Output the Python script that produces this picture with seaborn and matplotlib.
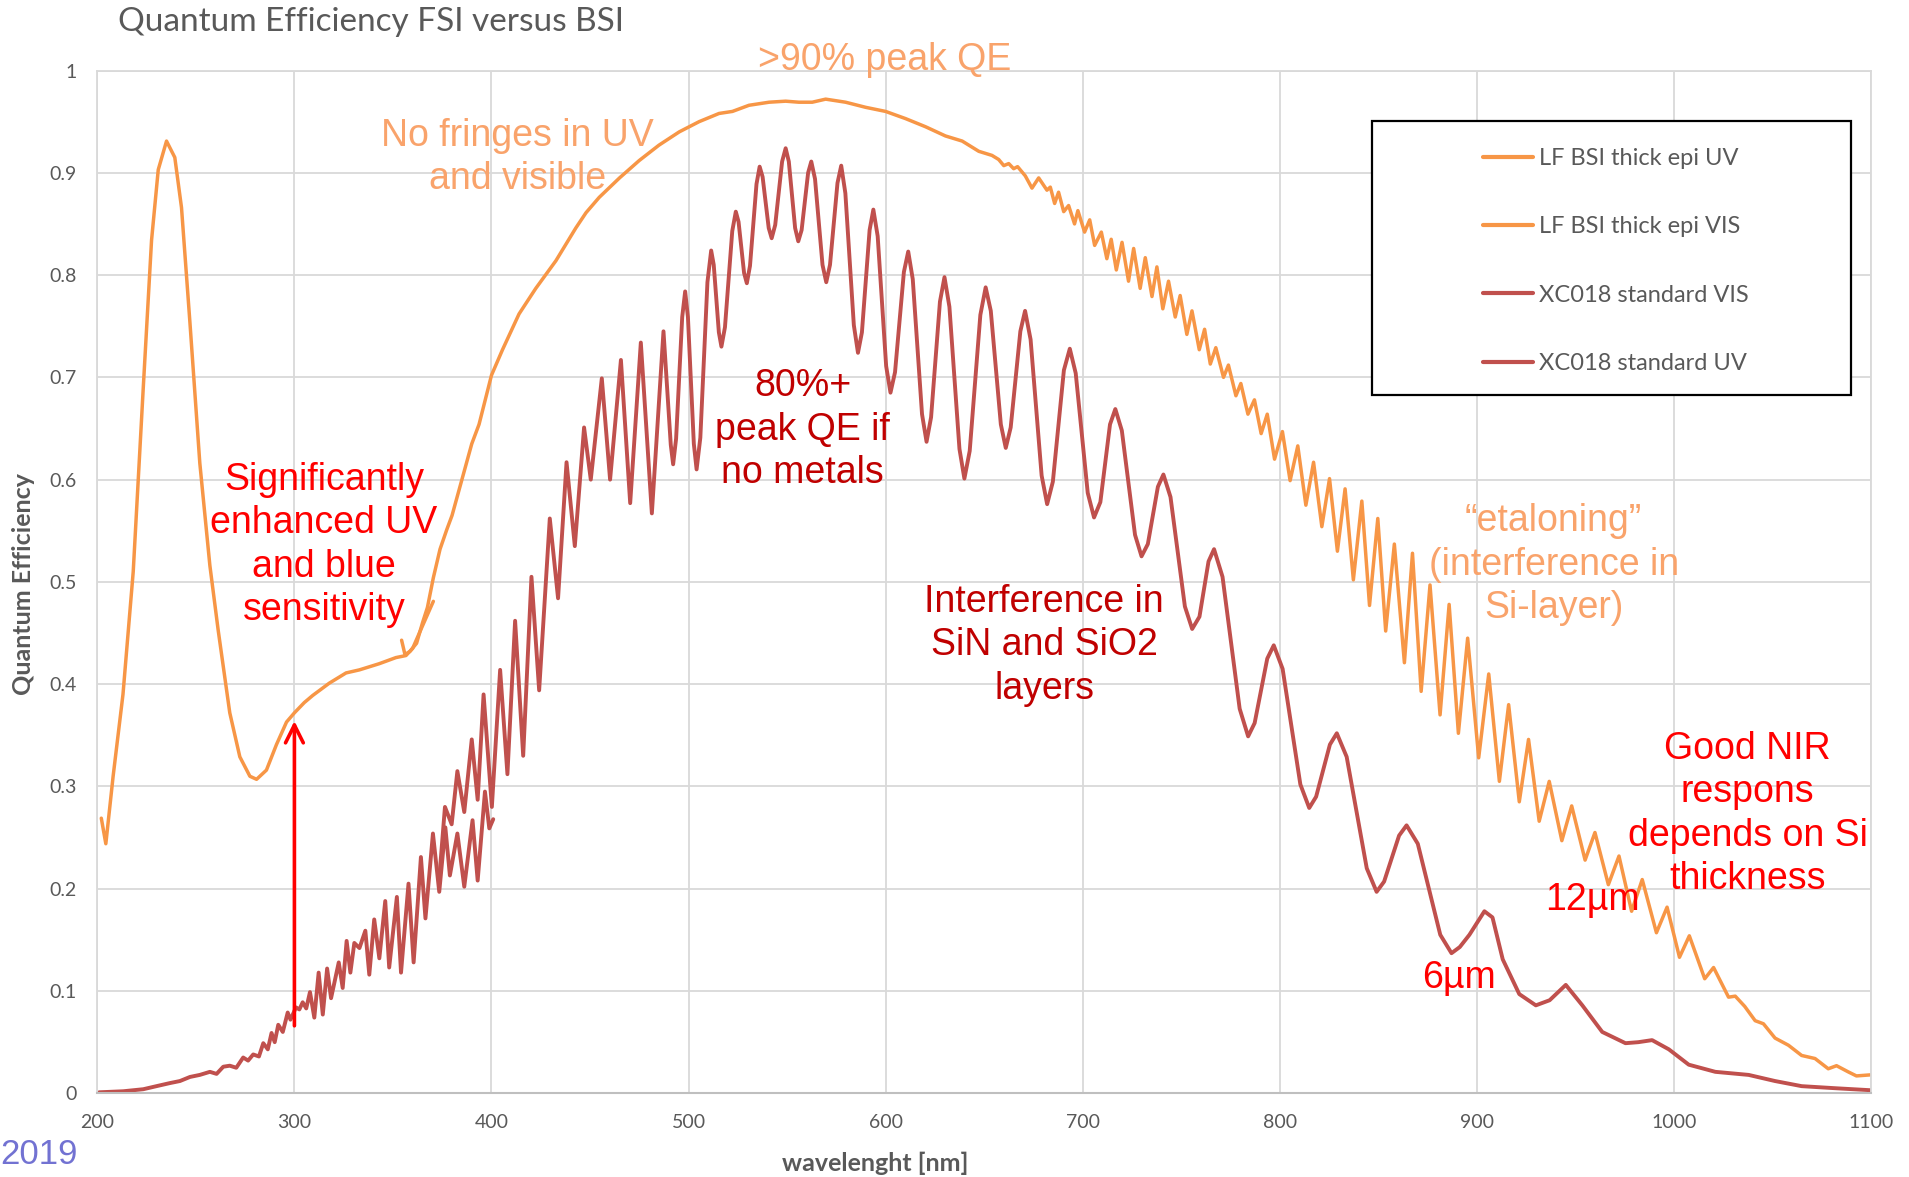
import matplotlib
matplotlib.use("Agg")
import matplotlib.pyplot as plt
import seaborn as sns
from matplotlib.patches import Rectangle

# ---------------- data ----------------
lf_uv_wl = [202, 204.3, 208, 213, 218.2, 223.3, 227.5, 230.9, 235.1, 239.3, 242.7, 247, 252,
            257.1, 261.3, 267.2, 272.3, 277.4, 280.8, 285.8, 290.9, 296, 300, 305, 309.3,
            317.7, 326.2, 333, 343, 351.5, 356.6, 360, 365, 370.5]
lf_uv_qe = [0.269, 0.244, 0.31, 0.39, 0.51, 0.69, 0.834, 0.903, 0.931, 0.915, 0.866, 0.753, 0.616,
            0.516, 0.453, 0.372, 0.329, 0.31, 0.307, 0.316, 0.341, 0.363, 0.372, 0.382, 0.389,
            0.401, 0.411, 0.414, 0.42, 0.426, 0.428, 0.435, 0.457, 0.481]

lf_vis_wl = [354.4, 356.1, 358.6, 362, 365, 367.5, 370.5, 373.9, 377.3, 380, 385, 390, 393.7, 400,
             405.6, 414, 422.5, 432.7, 442.8, 448, 454.7, 465, 475, 485, 495.3, 505.4, 515.5, 522.3,
             530.7, 540.9, 549.3, 556, 562.8, 569.6, 579.7, 589.9, 600, 610.1, 620.3, 630.4, 638.9,
             644, 647.3, 654, 657.4, 660, 662.5, 665, 667, 670.9, 674.3, 677.7, 681.9, 683.6,
             685.8, 687.8, 690.4, 692.9, 695.9, 697.6, 701, 703.6, 706.1, 709.5, 712.3, 714.5,
             717.1, 720, 723.3, 725.9, 729.2, 731.8, 735.2, 737.7, 740.7, 743.6, 747, 749.5,
             752.9, 755.5, 759.2, 761.9, 764.8, 767.6, 771.5, 774, 777.8, 780.3, 783.9, 787.2,
             790.6, 793.7, 797.4, 801.4, 805.3, 809.2, 813.3, 817.2, 821.4, 825.3, 829.3, 833.2,
             837.4, 841.7, 845.6, 849.8, 853.8, 858.2, 863.3, 867.4, 871.8, 876.3, 881.4, 886,
             890.7, 895.4, 901, 906.1, 911.5, 916.2, 921.6, 926.3, 931.7, 936.8, 943.2, 948.2,
             955, 960, 966.8, 972.2, 978.6, 984, 991.2, 996.6, 1002.9, 1007.9, 1015.7, 1020.2,
             1027.8, 1031.2, 1036, 1041.3, 1045.5, 1051.4, 1058.2, 1064.9, 1071.7, 1078.4,
             1082.6, 1088.5, 1092.7, 1099.5]
lf_vis_qe = [0.443, 0.429, 0.432, 0.44, 0.46, 0.475, 0.504, 0.532, 0.551, 0.565, 0.60, 0.635, 0.654,
             0.702, 0.727, 0.762, 0.787, 0.814, 0.846, 0.861, 0.876, 0.895, 0.912, 0.927, 0.94, 0.95,
             0.958, 0.96, 0.966, 0.969, 0.97, 0.969, 0.969, 0.972, 0.969, 0.964, 0.96, 0.953,
             0.945, 0.936, 0.931, 0.925, 0.921, 0.917, 0.913, 0.907, 0.909, 0.904, 0.906, 0.897,
             0.885, 0.895, 0.883, 0.886, 0.870, 0.881, 0.862, 0.868, 0.850, 0.863, 0.842, 0.854,
             0.829, 0.842, 0.816, 0.835, 0.805, 0.832, 0.794, 0.826, 0.787, 0.817, 0.779, 0.808,
             0.767, 0.794, 0.759, 0.780, 0.742, 0.765, 0.727, 0.747, 0.713, 0.729, 0.700, 0.712,
             0.682, 0.694, 0.664, 0.678, 0.645, 0.664, 0.620, 0.647, 0.599, 0.633, 0.575, 0.617,
             0.554, 0.601, 0.530, 0.591, 0.502, 0.579, 0.477, 0.562, 0.452, 0.537, 0.421, 0.528,
             0.393, 0.497, 0.370, 0.478, 0.352, 0.445, 0.328, 0.410, 0.305, 0.380, 0.285, 0.346,
             0.266, 0.305, 0.247, 0.281, 0.228, 0.255, 0.204, 0.232, 0.178, 0.209, 0.157, 0.182,
             0.133, 0.154, 0.112, 0.123, 0.094, 0.095, 0.085, 0.071, 0.068, 0.054, 0.047, 0.037,
             0.034, 0.024, 0.027, 0.021, 0.017, 0.018]

xc_vis_wl = [373.5, 376.4, 379.8, 382.7, 386.2, 390, 393, 396, 400.2, 404.4, 408.1, 412, 416.1,
             420.3, 424.2, 429.6, 433.8, 438.1, 442.3, 447, 450.4, 456, 460.2, 465.7, 470.4, 475.8,
             481.4, 487.3, 491.0, 492.2, 493.7, 496.8, 498.3, 499.7, 502.7, 504.1, 506.0, 509.6,
             511.5, 512.8, 515.4, 516.7, 518.5, 522.2, 524, 525.4, 528.2, 529.6, 531.2, 534.5,
             536.1, 537.6, 540.7, 542.2, 544.0, 547.5, 549.3, 550.9, 554.1, 555.7, 557.4, 560.7,
             562.3, 564.2, 568.0, 569.9, 571.8, 575.6, 577.5, 579.6, 583.9, 586, 588.0, 591.9,
             593.8, 596.0, 600.3, 602.5, 604.8, 609.3, 611.5, 613.8, 618.5, 620.8, 623.1, 627.6,
             629.9, 632.4, 637.5, 640, 642.7, 648.1, 650.8, 653.4, 658.5, 661, 663.5, 668.4,
             670.8, 673.6, 679.2, 682, 684.9,
             690.5, 693.5, 696.5, 702.6, 705.8, 709, 713.9, 716.6, 719.9, 726.6, 729.9,
             733.1, 738.2, 741, 744.6, 751.9, 755.6, 759.3, 763.9, 766.7, 771, 779.7, 784, 787.3,
             793.7, 797, 801.5, 810.5, 815, 818.5, 825.5, 829, 834, 844.2, 849.2, 853, 860.6, 864.4,
             870.1, 881.5, 887.2, 891.4, 896.3, 903.9, 908, 913.2, 921.6, 930, 937, 945.2, 953.6,
             963.7, 975.5, 982, 989, 997.5, 1007.6, 1021.1, 1038, 1051.4, 1064.9, 1081.8, 1100]
xc_vis_qe = [0.21, 0.28, 0.263, 0.315, 0.275, 0.346, 0.287, 0.39, 0.28, 0.414, 0.312, 0.462, 0.33,
             0.505, 0.394, 0.562, 0.484, 0.617, 0.535, 0.651, 0.60, 0.699, 0.60, 0.717, 0.577,
             0.734, 0.567, 0.745, 0.634, 0.615, 0.640, 0.759, 0.784, 0.759, 0.635, 0.61, 0.641,
             0.793, 0.824, 0.810, 0.744, 0.730, 0.749, 0.843, 0.862, 0.852, 0.802, 0.792, 0.809,
             0.889, 0.906, 0.896, 0.846, 0.836, 0.849, 0.911, 0.924, 0.911, 0.846, 0.833, 0.844,
             0.900, 0.911, 0.894, 0.810, 0.793, 0.810, 0.890, 0.907, 0.880, 0.751, 0.724, 0.744,
             0.844, 0.864, 0.838, 0.711, 0.685, 0.705, 0.803, 0.823, 0.796, 0.664, 0.637, 0.661,
             0.774, 0.798, 0.769, 0.630, 0.601, 0.628, 0.761, 0.788, 0.765, 0.654, 0.631, 0.651,
             0.745, 0.765, 0.737, 0.604, 0.576, 0.598,
             0.707, 0.728, 0.704, 0.587, 0.563, 0.578, 0.654, 0.669,
             0.648, 0.546, 0.525, 0.537, 0.593, 0.605, 0.583, 0.476, 0.454, 0.466, 0.520, 0.532,
             0.505, 0.376, 0.349, 0.362, 0.425, 0.438, 0.415, 0.302, 0.279, 0.290, 0.341, 0.352,
             0.329, 0.220, 0.197, 0.207, 0.252, 0.262, 0.244, 0.155, 0.137, 0.143, 0.155, 0.178,
             0.172, 0.131, 0.097, 0.086, 0.091, 0.106, 0.086, 0.06, 0.049, 0.050, 0.052, 0.043,
             0.028, 0.021, 0.018, 0.012, 0.007, 0.005, 0.003]

xc_uv_wl = [200.9, 213.1, 223.3, 230, 236.8, 241.9, 247, 252, 257.1, 260.5, 263.9, 267.2, 270.5,
            274, 276.5, 279.1, 282, 284.2, 286.5, 288.4, 290, 291.8, 294.1, 296.6, 298, 300.8,
            302.5, 304.2, 306, 307.9, 310.1, 312.3, 314.4, 316.6, 318.6, 322.5, 324.5, 326.5,
            328.4, 330.4, 333, 336, 338, 340.5, 343.1, 346.1, 348.1, 352, 354.1, 357.9, 360.5,
            364.2, 366.5, 370.3, 373.5, 376.6, 378.9, 382.7, 386.2, 390.4, 393, 396.7, 398.9,
            400.9]
xc_uv_qe = [0.001, 0.002, 0.004, 0.007, 0.010, 0.012, 0.016, 0.018, 0.021, 0.019, 0.026, 0.027,
            0.025, 0.035, 0.032, 0.038, 0.036, 0.049, 0.043, 0.059, 0.05, 0.067, 0.06, 0.079,
            0.072, 0.084, 0.082, 0.089, 0.083, 0.099, 0.074, 0.118, 0.077, 0.122, 0.093, 0.128,
            0.103, 0.149, 0.118, 0.147, 0.142, 0.159, 0.116, 0.170, 0.132, 0.188, 0.123, 0.192,
            0.118, 0.205, 0.128, 0.231, 0.171, 0.254, 0.197, 0.26, 0.213, 0.254, 0.202, 0.267,
            0.208, 0.295, 0.259, 0.268]

series_names = ["LF BSI thick epi UV", "LF BSI thick epi VIS",
                "XC018 standard VIS", "XC018 standard UV"]
x_ticks = [200, 300, 400, 500, 600, 700, 800, 900, 1000, 1100]
y_ticks = [0, 0.1, 0.2, 0.3, 0.4, 0.5, 0.6, 0.7, 0.8, 0.9, 1]
y_ticklabels = ["0", "0.1", "0.2", "0.3", "0.4", "0.5", "0.6", "0.7", "0.8", "0.9", "1"]

# ---------------- style ----------------
sns.set_theme(style="white")
plt.rcParams["font.family"] = ["Lato", "DejaVu Sans"]

ORANGE = "#F79646"
RED = "#C0504D"
GRAY = "#595959"
GRID = "#D9D9D9"
ANN_ORANGE = "#F9A36B"
ANN_DARKRED = "#C00000"
ANN_RED = "#FF0000"
ARIAL = ["Liberation Sans", "DejaVu Sans"]

fig = plt.figure(figsize=(19.09, 11.77), dpi=100)
ax = fig.add_axes([0.051, 0.0711, 0.929, 0.869])

lw = 2.5
sns.lineplot(x=lf_uv_wl, y=lf_uv_qe, ax=ax, color=ORANGE, lw=lw, label=series_names[0],
             estimator=None, sort=False)
sns.lineplot(x=lf_vis_wl, y=lf_vis_qe, ax=ax, color=ORANGE, lw=lw, label=series_names[1],
             estimator=None, sort=False)
sns.lineplot(x=xc_vis_wl, y=xc_vis_qe, ax=ax, color=RED, lw=2.8, label=series_names[2],
             estimator=None, sort=False)
sns.lineplot(x=xc_uv_wl, y=xc_uv_qe, ax=ax, color=RED, lw=2.8, label=series_names[3],
             estimator=None, sort=False)
for ln in ax.lines:
    ln.set_solid_joinstyle("round")
    ln.set_solid_capstyle("round")

ax.set_xlim(200, 1100)
ax.set_ylim(0, 1)
ax.set_xticks(x_ticks)
ax.set_xticklabels([str(t) for t in x_ticks])
ax.set_yticks(y_ticks)
ax.set_yticklabels(y_ticklabels)
ax.grid(True, color=GRID, lw=1.3)
ax.set_axisbelow(True)
for s in ["top", "right", "left"]:
    ax.spines[s].set_color(GRID)
    ax.spines[s].set_linewidth(1.3)
ax.spines["bottom"].set_color("#BFBFBF")
ax.spines["bottom"].set_linewidth(1.5)
ax.tick_params(axis="both", length=0, labelsize=14, colors=GRAY)
ax.tick_params(axis="x", pad=15)
ax.tick_params(axis="y", pad=15)

ax.set_xlabel("wavelenght [nm]", fontsize=18, fontweight="bold", color=GRAY, va="center")
ax.set_ylabel("Quantum Efficiency", fontsize=18, fontweight="bold", color=GRAY, va="center")
ax.xaxis.set_label_coords(0.4384, -0.068)
ax.yaxis.set_label_coords(-0.0414, 0.498)

fig.text(118 / 1909, 1 - 22 / 1177, "Quantum Efficiency FSI versus BSI", fontsize=24,
         color=GRAY, ha="left", va="center")
fig.text(0.0, 1 - 1154 / 1177, "2019", fontsize=25, color="#7272D2", ha="left", va="center",
         family=ARIAL)

# legend box + legend
box = Rectangle((0.7187, 0.6648), 0.2509, 0.2328, transform=fig.transFigure,
                facecolor="white", edgecolor="black", lw=1.6, zorder=5, clip_on=False)
ax.add_patch(box)
leg = ax.legend(loc="center left", bbox_to_anchor=(0.7705, 0.7783),
                bbox_transform=fig.transFigure, frameon=False, fontsize=17,
                handlelength=2.12, handletextpad=0.25, labelspacing=2.0, borderpad=0)
leg.set_zorder(6)
for t in leg.get_texts():
    t.set_color(GRAY)
for h in leg.get_lines():
    h.set_linewidth(3)

# annotations
ann = dict(fontsize=27, family=ARIAL, ha="center", va="center", linespacing=1.26)
ax.text(599.6, 1.01, ">90% peak QE", color=ANN_ORANGE, **ann)
ax.text(413, 0.915, "No fringes in UV\nand visible", color=ANN_ORANGE, **ann)
ax.text(558, 0.649, "80%+\npeak QE if\nno metals", color=ANN_DARKRED, **ann)
ax.text(315, 0.536, "Significantly\nenhanced UV\nand blue\nsensitivity", color=ANN_RED, **ann)
ax.text(680.5, 0.438, "Interference in\nSiN and SiO2\nlayers", color=ANN_DARKRED, **ann)
ax.text(939, 0.517, "\u201cetaloning\u201d\n(interference in\nSi-layer)", color=ANN_ORANGE, **ann)
ax.text(1037.5, 0.273, "Good NIR\nrespons\ndepends on Si\nthickness", color=ANN_RED, **ann)
ax.text(958.5, 0.189, "12\u00b5m", color=ANN_RED, **ann)
ax.text(891, 0.113, "6\u00b5m", color=ANN_RED, **ann)
ax.annotate("", xy=(300, 0.364), xytext=(300, 0.066),
            arrowprops=dict(arrowstyle="->", color=ANN_RED, lw=2.6, mutation_scale=32,
                            shrinkA=0, shrinkB=0))

fig.savefig("out.png", dpi=100)
